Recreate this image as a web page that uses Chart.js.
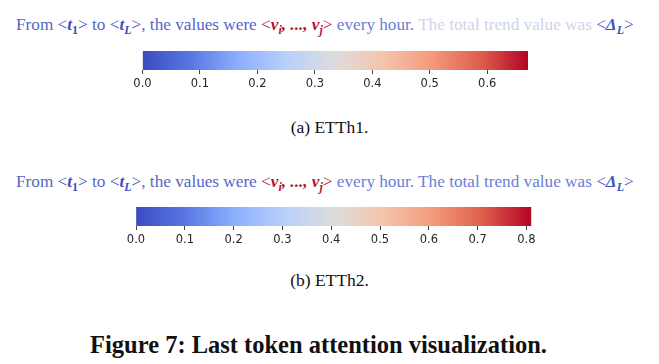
<!DOCTYPE html>
<html>
<head>
<meta charset="utf-8">
<script src="https://cdn.jsdelivr.net/npm/chart.js@4/dist/chart.umd.min.js"></script>
<style>
  html, body { margin:0; padding:0; background:#fff; }
  body { width:659px; height:364px; position:relative; overflow:hidden; }
  .line { position:absolute; left:0; width:659px; white-space:nowrap; font-family:"Liberation Serif", serif; }
  .sent { left:16px; font-size:17.2px; height:22px; line-height:22px; }
  .tok { font-weight:bold; font-style:italic; }
  .tok sub { font-size:0.7em; vertical-align:-0.3em; line-height:0; }
  .tok sub.up { font-style:normal; }
  .cap { text-align:center; font-size:17.5px; line-height:20px; color:#111; }
  .fig { text-align:center; font-size:24.5px; line-height:26px; font-weight:bold; color:#111; }
  canvas { position:absolute; left:0; }
</style>
</head>
<body>

<div class="line sent" style="top:14px;">
  <span style="color:#5467c7">From </span><span style="color:#3c4dc0">&lt;<span class="tok">t<sub class="up">1</sub></span>&gt;</span><span style="color:#5467c7"> to </span><span style="color:#3c4dc0">&lt;<span class="tok">t<sub>L</sub></span>&gt;</span><span style="color:#5467c7">, the values were </span><span style="color:#b3132f">&lt;<span class="tok">v<sub>i</sub>, ..., v<sub>j</sub></span>&gt;</span><span style="color:#6a80d8"> every hour. </span><span style="color:#cdd4ec">The total trend value was </span><span style="color:#4054c4">&lt;<span class="tok">Δ<sub>L</sub></span>&gt;</span>
</div>
<canvas id="cb1" width="659" height="51" style="top:41px;"></canvas>
<div class="line cap" style="top:117px;">(a) ETTh1.</div>

<div class="line sent" style="top:171px;">
  <span style="color:#5467c7">From </span><span style="color:#3c4dc0">&lt;<span class="tok">t<sub class="up">1</sub></span>&gt;</span><span style="color:#5467c7"> to </span><span style="color:#3c4dc0">&lt;<span class="tok">t<sub>L</sub></span>&gt;</span><span style="color:#5467c7">, the values were </span><span style="color:#b3132f">&lt;<span class="tok">v<sub>i</sub>, ..., v<sub>j</sub></span>&gt;</span><span style="color:#6a80d8"> every hour. The total trend value was </span><span style="color:#4054c4">&lt;<span class="tok">Δ<sub>L</sub></span>&gt;</span>
</div>
<canvas id="cb2" width="659" height="51" style="top:197px;"></canvas>
<div class="line cap" style="top:270px;">(b) ETTh2.</div>

<div class="line fig" style="top:332px; left:-11px;">Figure 7: Last token attention visualization.</div>

<script>
// ---- data ----
const cb1Ticks = [0.0, 0.1, 0.2, 0.3, 0.4, 0.5, 0.6];
const cb1Max = 0.671;
const cb2Ticks = [0.0, 0.1, 0.2, 0.3, 0.4, 0.5, 0.6, 0.7, 0.8];
const cb2Max = 0.81;
const coolwarmStops = ['#3b4cc0', '#5977e3', '#8db0fe', '#b8d0f9', '#dddddd', '#f5c4ac', '#f49a7b', '#de604d', '#b40426'];

function makeColorbar(id, ticks, max, padLeft, padRight) {
  const ctx = document.getElementById(id).getContext('2d');
  return new Chart(ctx, {
    type: 'bar',
    data: {
      labels: ['attention'],
      datasets: [{
        data: [[0, max]],
        borderWidth: 0,
        barPercentage: 1,
        categoryPercentage: 1,
        backgroundColor: (c) => {
          const area = c.chart.chartArea;
          if (!area) return '#ddd';
          const g = c.chart.ctx.createLinearGradient(area.left, 0, area.right, 0);
          coolwarmStops.forEach((col, i) => g.addColorStop(i / (coolwarmStops.length - 1), col));
          return g;
        }
      }]
    },
    options: {
      indexAxis: 'y',
      responsive: false,
      animation: false,
      layout: { padding: { left: padLeft, right: padRight, top: 10, bottom: 0 } },
      plugins: { legend: { display: false }, tooltip: { enabled: false } },
      scales: {
        x: {
          type: 'linear',
          min: 0,
          max: max,
          afterBuildTicks: (s) => { s.ticks = ticks.map(v => ({ value: v })); },
          afterFit: (s) => { s.height = 22; },
          border: { display: false },
          grid: { display: true, drawOnChartArea: false, drawTicks: true, tickLength: 4, tickColor: '#444', lineWidth: 1 },
          ticks: {
            padding: 3,
            color: '#262626',
            font: { family: 'DejaVu Sans', size: 11.5 },
            callback: (v) => Number(v).toFixed(1),
            maxRotation: 0,
            autoSkip: false
          }
        },
        y: { display: false }
      }
    }
  });
}

makeColorbar('cb1', cb1Ticks, cb1Max, 142.5, 131);
makeColorbar('cb2', cb2Ticks, cb2Max, 136, 127.7);
</script>
</body>
</html>
